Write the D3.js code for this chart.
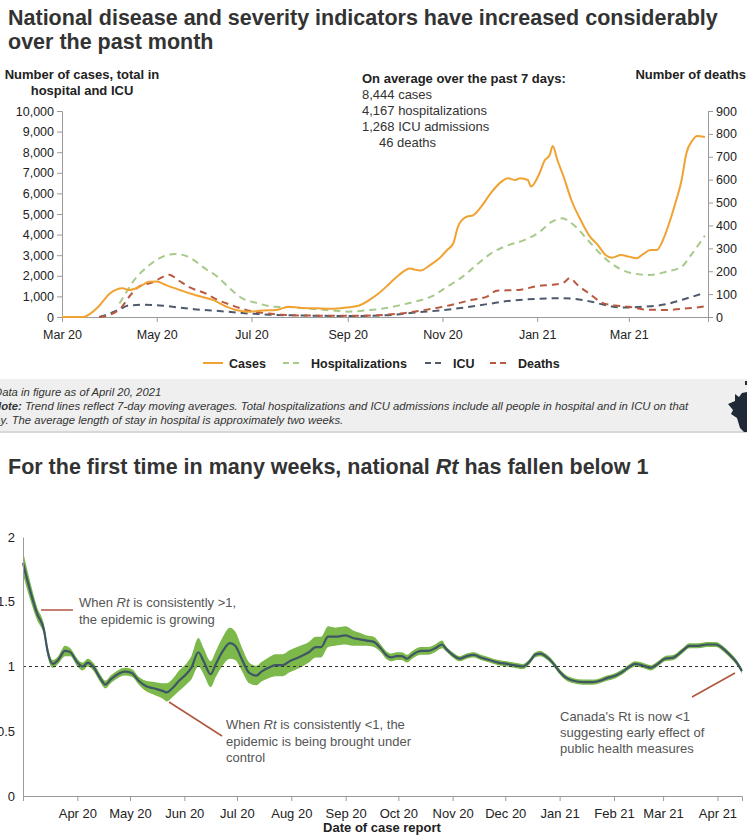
<!DOCTYPE html>
<html>
<head>
<meta charset="utf-8">
<script src="https://cdn.jsdelivr.net/npm/d3@7"></script>
<style>
  body { margin: 0; background: #fff; }
  text { font-family: "Liberation Sans", Arial, sans-serif; }
</style>
</head>
<body>
<div id="chart"></div>
<script>
// ---- top chart data (7-day averages) ----
var casesDates = ["2020-03-01","2020-03-15","2020-03-19","2020-03-25","2020-04-01","2020-04-05","2020-04-09","2020-04-13","2020-04-20","2020-04-26","2020-05-01","2020-05-07","2020-05-16","2020-05-22","2020-05-28","2020-06-06","2020-06-15","2020-06-21","2020-06-30","2020-07-08","2020-07-17","2020-07-25","2020-08-01","2020-08-12","2020-08-22","2020-08-31","2020-09-08","2020-09-15","2020-09-21","2020-09-28","2020-10-04","2020-10-11","2020-10-14","2020-10-18","2020-10-24","2020-10-30","2020-11-04","2020-11-08","2020-11-11","2020-11-16","2020-11-21","2020-11-26","2020-12-02","2020-12-09","2020-12-13","2020-12-18","2020-12-21","2020-12-26","2020-12-28","2021-01-02","2021-01-06","2021-01-09","2021-01-11","2021-01-14","2021-01-18","2021-01-23","2021-01-29","2021-02-04","2021-02-09","2021-02-14","2021-02-18","2021-02-24","2021-03-01","2021-03-06","2021-03-10","2021-03-15","2021-03-19","2021-03-23","2021-03-27","2021-03-31","2021-04-04","2021-04-07","2021-04-11","2021-04-14","2021-04-19"];
var casesValues = [0,0,150,550,1150,1330,1390,1310,1470,1710,1720,1550,1310,1150,1020,830,500,340,260,310,340,500,450,420,400,460,550,830,1150,1630,2040,2360,2300,2260,2520,2850,3250,3580,4390,4850,4950,5360,6000,6570,6740,6650,6740,6650,6330,6890,7620,7850,8300,7620,6820,5680,4710,3900,3500,3010,2880,3010,2930,2850,3040,3250,3250,3740,4550,5530,6650,7930,8580,8790,8740];

var hospDates = ["2020-04-07","2020-04-11","2020-04-15","2020-04-25","2020-05-05","2020-05-13","2020-05-21","2020-06-01","2020-06-09","2020-06-17","2020-06-25","2020-07-05","2020-07-15","2020-07-25","2020-08-05","2020-08-20","2020-09-01","2020-09-15","2020-09-25","2020-10-05","2020-10-15","2020-10-25","2020-11-04","2020-11-14","2020-11-24","2020-12-04","2020-12-14","2020-12-24","2021-01-02","2021-01-10","2021-01-17","2021-01-24","2021-02-03","2021-02-13","2021-02-23","2021-03-05","2021-03-15","2021-03-25","2021-04-04","2021-04-10","2021-04-19"];
var hospValues = [650,1150,1640,2440,2930,3060,2930,2360,1960,1390,910,670,500,480,420,330,260,340,420,580,760,1000,1470,1960,2600,3170,3500,3740,4100,4600,4790,4500,3700,2900,2350,2100,2040,2200,2440,3000,3950];

var icuDates = ["2020-03-25","2020-03-31","2020-04-06","2020-04-13","2020-04-22","2020-05-05","2020-05-15","2020-05-25","2020-06-05","2020-06-15","2020-06-25","2020-07-05","2020-07-15","2020-07-30","2020-08-15","2020-09-01","2020-09-15","2020-10-01","2020-10-15","2020-11-01","2020-11-15","2020-12-01","2020-12-15","2021-01-01","2021-01-15","2021-01-25","2021-02-05","2021-02-15","2021-02-25","2021-03-10","2021-03-25","2021-04-05","2021-04-19"];
var icuValues = [0,150,330,560,590,550,460,380,320,260,190,150,100,80,60,50,60,110,220,330,460,640,790,880,910,880,740,560,460,500,620,850,1180];

var deathDates = ["2020-03-25","2020-04-01","2020-04-08","2020-04-14","2020-04-20","2020-04-28","2020-05-05","2020-05-09","2020-05-15","2020-05-22","2020-06-01","2020-06-09","2020-06-18","2020-06-28","2020-07-08","2020-07-20","2020-08-10","2020-09-01","2020-09-20","2020-10-05","2020-10-20","2020-11-05","2020-11-20","2020-11-30","2020-12-06","2020-12-20","2021-01-01","2021-01-12","2021-01-18","2021-01-22","2021-01-27","2021-02-04","2021-02-12","2021-02-20","2021-03-01","2021-03-12","2021-03-25","2021-04-08","2021-04-19"];
var deathValues = [0,10,40,95,135,150,175,185,160,130,104,75,52,30,18,10,6,5,8,15,30,50,75,90,115,118,135,142,150,170,140,100,62,50,45,32,31,38,46];

var topTickDates = ["2020-03-01","2020-05-01","2020-07-01","2020-09-01","2020-11-01","2021-01-01","2021-03-01"];
var leftTicks = [0,1000,2000,3000,4000,5000,6000,7000,8000,9000,10000];
var rightTicks = [0,100,200,300,400,500,600,700,800,900];
var summaryLines = ["8,444 cases","4,167 hospitalizations","1,268 ICU admissions","46 deaths"];
var legendLabels = ["Cases","Hospitalizations","ICU","Deaths"];

// ---- bottom chart data (Rt with credible band) ----
var rtDates = ["2020-03-01","2020-03-05","2020-03-09","2020-03-13","2020-03-15","2020-03-18","2020-03-21","2020-03-25","2020-03-28","2020-04-01","2020-04-04","2020-04-07","2020-04-10","2020-04-14","2020-04-17","2020-04-20","2020-04-24","2020-04-28","2020-05-02","2020-05-06","2020-05-10","2020-05-15","2020-05-20","2020-05-22","2020-05-25","2020-05-29","2020-06-02","2020-06-05","2020-06-09","2020-06-12","2020-06-16","2020-06-19","2020-06-23","2020-06-27","2020-06-30","2020-07-04","2020-07-08","2020-07-12","2020-07-15","2020-07-19","2020-07-23","2020-07-27","2020-07-31","2020-08-05","2020-08-11","2020-08-15","2020-08-18","2020-08-22","2020-08-26","2020-09-01","2020-09-05","2020-09-09","2020-09-13","2020-09-17","2020-09-21","2020-09-24","2020-09-27","2020-09-30","2020-10-03","2020-10-06","2020-10-09","2020-10-14","2020-10-18","2020-10-22","2020-10-26","2020-10-28","2020-11-01","2020-11-05","2020-11-09","2020-11-13","2020-11-17","2020-11-22","2020-11-27","2020-12-02","2020-12-06","2020-12-11","2020-12-15","2020-12-18","2020-12-21","2020-12-24","2020-12-28","2021-01-01","2021-01-05","2021-01-09","2021-01-14","2021-01-20","2021-01-24","2021-01-28","2021-02-02","2021-02-06","2021-02-10","2021-02-13","2021-02-17","2021-02-22","2021-02-26","2021-03-02","2021-03-07","2021-03-12","2021-03-16","2021-03-21","2021-03-26","2021-03-31","2021-04-04","2021-04-08","2021-04-12","2021-04-15"];
var rtValues = [1.80,1.59,1.41,1.28,1.12,1.02,1.05,1.12,1.11,1.03,1.00,1.03,1.00,0.91,0.86,0.90,0.94,0.96,0.95,0.89,0.85,0.83,0.81,0.80,0.83,0.89,0.94,0.99,1.11,1.04,0.94,1.02,1.12,1.18,1.16,1.05,0.95,0.93,0.96,0.99,1.01,1.01,1.04,1.07,1.11,1.15,1.15,1.23,1.23,1.24,1.22,1.21,1.20,1.19,1.14,1.09,1.07,1.08,1.08,1.06,1.09,1.12,1.12,1.14,1.17,1.14,1.09,1.06,1.08,1.09,1.07,1.05,1.03,1.02,1.01,1.00,1.04,1.09,1.10,1.08,1.03,0.96,0.91,0.89,0.88,0.88,0.89,0.91,0.93,0.96,1.00,1.02,1.01,0.99,1.02,1.06,1.07,1.12,1.16,1.16,1.17,1.17,1.14,1.09,1.03,0.965];
var rtBand = [0.09,0.07,0.05,0.04,0.04,0.03,0.03,0.04,0.03,0.03,0.03,0.03,0.03,0.03,0.03,0.03,0.03,0.03,0.03,0.03,0.04,0.05,0.06,0.07,0.07,0.08,0.08,0.09,0.11,0.10,0.10,0.10,0.11,0.12,0.11,0.09,0.08,0.075,0.075,0.08,0.085,0.085,0.085,0.085,0.08,0.08,0.08,0.08,0.07,0.07,0.06,0.05,0.04,0.04,0.03,0.03,0.03,0.03,0.03,0.03,0.03,0.03,0.03,0.03,0.03,0.02,0.02,0.02,0.02,0.02,0.02,0.02,0.02,0.02,0.02,0.02,0.02,0.02,0.02,0.02,0.02,0.02,0.02,0.02,0.02,0.02,0.02,0.02,0.02,0.02,0.02,0.02,0.02,0.02,0.02,0.02,0.02,0.02,0.02,0.02,0.02,0.02,0.02,0.02,0.02,0.02];
var rtTickDates = ["2020-04-01","2020-05-01","2020-06-01","2020-07-01","2020-08-01","2020-09-01","2020-10-01","2020-11-01","2020-12-01","2021-01-01","2021-02-01","2021-03-01","2021-04-01"];
var rtTicks = [0,0.5,1,1.5,2];

var parse = d3.timeParse("%Y-%m-%d");
var W = 747, H = 837;
var svg = d3.select('#chart').append('svg').attr('width', W).attr('height', H);
svg.append('rect').attr('width', W).attr('height', H).attr('fill', '#fff');

var colCases = '#f0a232', colHosp = '#a7c98a', colIcu = '#4e5a6c', colDeath = '#b75a40';
var axisCol = '#9a9a9a';

// titles
var t1 = svg.append('text').attr('x', 8).attr('y', 25).attr('font-size', 21.5).attr('font-weight', 'bold').attr('fill', '#333');
t1.append('tspan').attr('x', 8).text('National disease and severity indicators have increased considerably');
t1.append('tspan').attr('x', 8).attr('dy', 24).text('over the past month');

// ---- top chart ----
var x = d3.scaleTime().domain([parse("2020-03-01"), parse("2021-04-21")]).range([62, 708]);
var yL = d3.scaleLinear().domain([0, 10000]).range([317, 111]);
var yR = d3.scaleLinear().domain([0, 900]).range([317, 111]);

var gx = svg.append('g').attr('transform', 'translate(0,317)')
  .call(d3.axisBottom(x).tickValues(topTickDates.map(parse)).tickFormat(d3.timeFormat('%b %y')).tickSize(5));
var gl = svg.append('g').attr('transform', 'translate(62,0)')
  .call(d3.axisLeft(yL).tickValues(leftTicks).tickFormat(d3.format(',')).tickSize(5));
var gr = svg.append('g').attr('transform', 'translate(708,0)')
  .call(d3.axisRight(yR).tickValues(rightTicks).tickSize(5));
[gx, gl, gr].forEach(function(g) {
  g.select('.domain').attr('stroke', axisCol);
  g.selectAll('.tick line').attr('stroke', axisCol);
  g.selectAll('.tick text').attr('font-size', 12.5).attr('fill', '#222').attr('font-family', '"Liberation Sans", Arial, sans-serif');
});
gx.selectAll('.tick text').attr('dy', '1.1em');

function series(dates, vals) {
  return dates.map(function(d, i) { return [parse(d), vals[i]]; });
}
function drawLine(data, scale, color, dash) {
  svg.append('path').datum(data)
    .attr('fill', 'none').attr('stroke', color).attr('stroke-width', 2)
    .attr('stroke-dasharray', dash)
    .attr('d', d3.line().curve(d3.curveMonotoneX)
      .x(function(d) { return x(d[0]); })
      .y(function(d) { return scale(d[1]); }));
}
drawLine(series(hospDates, hospValues), yL, colHosp, '7,5');
drawLine(series(icuDates, icuValues), yL, colIcu, '7,5');
drawLine(series(deathDates, deathValues), yR, colDeath, '7,5');
drawLine(series(casesDates, casesValues), yL, colCases, null);

// axis titles
var lt = svg.append('text').attr('font-size', 13).attr('font-weight', 'bold').attr('fill', '#222').attr('text-anchor', 'middle');
lt.append('tspan').attr('x', 82).attr('y', 79).text('Number of cases, total in');
lt.append('tspan').attr('x', 82).attr('dy', 16).text('hospital and ICU');
svg.append('text').attr('x', 746).attr('y', 79).attr('text-anchor', 'end')
  .attr('font-size', 13).attr('font-weight', 'bold').attr('fill', '#222').text('Number of deaths');

// summary box
svg.append('text').attr('x', 362).attr('y', 83).attr('font-size', 13).attr('font-weight', 'bold').attr('fill', '#222')
  .text('On average over the past 7 days:');
svg.selectAll('.summary').data(summaryLines).enter().append('text')
  .attr('x', function(d, i) { return i === 3 ? 379 : 362; })
  .attr('y', function(d, i) { return 99 + i * 16; })
  .attr('font-size', 13).attr('fill', '#333').text(function(d) { return d; });

// legend
var legCols = [colCases, colHosp, colIcu, colDeath];
var legX = [203, 283, 425, 490];
var leg = svg.selectAll('.leg').data(legendLabels).enter().append('g')
  .attr('transform', function(d, i) { return 'translate(' + legX[i] + ',363)'; });
leg.append('line').attr('x1', 0).attr('x2', 20).attr('y1', 0).attr('y2', 0)
  .attr('stroke', function(d, i) { return legCols[i]; }).attr('stroke-width', 2)
  .attr('stroke-dasharray', function(d, i) { return i === 0 ? null : '6,4'; });
leg.append('text').attr('x', function(d, i) { return i === 0 ? 26 : 28; }).attr('y', 4.5)
  .attr('font-size', 12.5).attr('font-weight', 'bold').attr('fill', '#222').text(function(d) { return d; });

// note box
svg.append('rect').attr('x', 0).attr('y', 379).attr('width', 747).attr('height', 53).attr('fill', '#efefef');
svg.append('line').attr('x1', 0).attr('x2', 747).attr('y1', 432).attr('y2', 432).attr('stroke', '#d8d8d8').attr('stroke-width', 2);
var noteFont = '"Liberation Sans Narrow", "Liberation Sans", Arial, sans-serif';
var note = svg.append('g').attr('font-size', 11.3).attr('font-style', 'italic').attr('fill', '#333');
note.append('text').attr('x', -6).attr('y', 396).attr('font-family', noteFont).text('Data in figure as of April 20, 2021');
var n2 = note.append('text').attr('x', -7).attr('y', 410).attr('font-family', noteFont);
n2.append('tspan').attr('font-weight', 'bold').text('Note:');
n2.append('tspan').text(' Trend lines reflect 7-day moving averages. Total hospitalizations and ICU admissions include all people in hospital and in ICU on that');
note.append('text').attr('x', -12).attr('y', 424).attr('font-family', noteFont).text('day. The average length of stay in hospital is approximately two weeks.');
// maple leaf at the right edge
svg.append('path').attr('fill', '#1f2a36')
  .attr('d', 'M747,392 L742,393 L739,397 L735,394 L735,401 L728,404 L733,410 L731,414 L737,418 L740,428 L744,432 L747,432 Z');
svg.append('rect').attr('x', 745).attr('y', 381).attr('width', 2).attr('height', 4).attr('fill', '#1f2a36');

// ---- bottom chart ----
var t2 = svg.append('text').attr('x', 8).attr('y', 474).attr('font-size', 21.5).attr('font-weight', 'bold').attr('fill', '#333');
t2.append('tspan').text('For the first time in many weeks, national ');
t2.append('tspan').attr('font-style', 'italic').text('Rt');
t2.append('tspan').text(' has fallen below 1');

var x2 = d3.scaleTime().domain([parse("2020-03-01"), parse("2021-04-15")]).range([23, 742]);
var y2 = d3.scaleLinear().domain([0, 2]).range([796, 537]);

var rt = rtDates.map(function(d, i) { return { date: parse(d), v: rtValues[i], b: rtBand[i] }; });

svg.append('path').datum(rt).attr('fill', '#7cb84a')
  .attr('d', d3.area().curve(d3.curveMonotoneX)
    .x(function(d) { return x2(d.date); })
    .y0(function(d) { return y2(d.v - d.b); })
    .y1(function(d) { return y2(d.v + d.b); }));
svg.append('line').attr('x1', 23).attr('x2', 742).attr('y1', y2(1)).attr('y2', y2(1))
  .attr('stroke', '#333').attr('stroke-width', 1).attr('stroke-dasharray', '3,3');
svg.append('path').datum(rt).attr('fill', 'none').attr('stroke', '#3e5666').attr('stroke-width', 2.2)
  .attr('d', d3.line().curve(d3.curveMonotoneX)
    .x(function(d) { return x2(d.date); })
    .y(function(d) { return y2(d.v); }));

var bx = svg.append('g').attr('transform', 'translate(0,796)')
  .call(d3.axisBottom(x2).tickValues(rtTickDates.map(parse)).tickFormat(d3.timeFormat('%b %y')).tickSize(5));
var by = svg.append('g').attr('transform', 'translate(23,0)')
  .call(d3.axisLeft(y2).tickValues(rtTicks).tickFormat(function(d) { return d % 1 === 0 ? d : d3.format('.1f')(d); }).tickSize(0));
[bx, by].forEach(function(g) {
  g.select('.domain').attr('stroke', axisCol);
  g.selectAll('.tick line').attr('stroke', axisCol);
  g.selectAll('.tick text').attr('font-size', 13).attr('fill', '#222').attr('font-family', '"Liberation Sans", Arial, sans-serif');
});
bx.selectAll('.tick text').attr('dy', '1.1em');
by.selectAll('.tick text').attr('x', -8);

svg.append('text').attr('x', 382).attr('y', 832).attr('text-anchor', 'middle')
  .attr('font-size', 13).attr('font-weight', 'bold').attr('fill', '#222').text('Date of case report');

// annotations
var annCol = '#b0553e', annText = '#555';
svg.append('line').attr('x1', 41).attr('x2', 73).attr('y1', 610).attr('y2', 610).attr('stroke', annCol).attr('stroke-width', 1.5);
svg.append('line').attr('x1', 169).attr('x2', 222).attr('y1', 702).attr('y2', 736).attr('stroke', annCol).attr('stroke-width', 1.5);
svg.append('line').attr('x1', 692).attr('x2', 735).attr('y1', 697).attr('y2', 673).attr('stroke', annCol).attr('stroke-width', 1.5);

var a1 = svg.append('text').attr('font-size', 13).attr('fill', annText);
a1.append('tspan').attr('x', 79).attr('y', 607).text('When ');
a1.append('tspan').attr('font-style', 'italic').text('Rt');
a1.append('tspan').text(' is consistently >1,');
a1.append('tspan').attr('x', 79).attr('y', 624).text('the epidemic is growing');

var a2 = svg.append('text').attr('font-size', 13).attr('fill', annText);
a2.append('tspan').attr('x', 226).attr('y', 729).text('When ');
a2.append('tspan').attr('font-style', 'italic').text('Rt');
a2.append('tspan').text(' is consistently <1, the');
a2.append('tspan').attr('x', 226).attr('y', 746).text('epidemic is being brought under');
a2.append('tspan').attr('x', 226).attr('y', 762).text('control');

var a3 = svg.append('text').attr('font-size', 13).attr('fill', annText);
a3.append('tspan').attr('x', 560).attr('y', 721).text("Canada's Rt is now <1");
a3.append('tspan').attr('x', 560).attr('y', 737).text('suggesting early effect of');
a3.append('tspan').attr('x', 560).attr('y', 753).text('public health measures');
</script>
</body>
</html>
